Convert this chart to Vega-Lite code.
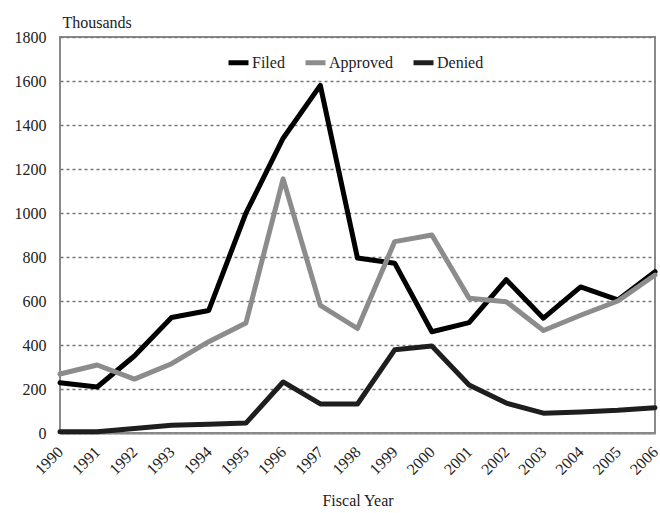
{
  "$schema": "https://vega.github.io/schema/vega-lite/v6.json",
  "width": 595,
  "height": 396,
  "autosize": {"type": "none"},
  "padding": {"left": 60, "top": 37, "right": 5, "bottom": 80},
  "background": "white",
  "config": {
    "font": "Liberation Serif",
    "axis": {"labelFont": "Liberation Serif", "titleFont": "Liberation Serif"},
    "legend": {"labelFont": "Liberation Serif"},
    "view": {"stroke": "#8a8a8a", "strokeWidth": 2}
  },
  "data": {
    "values": [
      {"year": "1990", "series": "Filed", "value": 228},
      {"year": "1991", "series": "Filed", "value": 209},
      {"year": "1992", "series": "Filed", "value": 350},
      {"year": "1993", "series": "Filed", "value": 525},
      {"year": "1994", "series": "Filed", "value": 557},
      {"year": "1995", "series": "Filed", "value": 1000},
      {"year": "1996", "series": "Filed", "value": 1340},
      {"year": "1997", "series": "Filed", "value": 1580},
      {"year": "1998", "series": "Filed", "value": 795},
      {"year": "1999", "series": "Filed", "value": 772},
      {"year": "2000", "series": "Filed", "value": 460},
      {"year": "2001", "series": "Filed", "value": 502},
      {"year": "2002", "series": "Filed", "value": 697},
      {"year": "2003", "series": "Filed", "value": 522},
      {"year": "2004", "series": "Filed", "value": 664},
      {"year": "2005", "series": "Filed", "value": 605},
      {"year": "2006", "series": "Filed", "value": 733},
      {"year": "1990", "series": "Approved", "value": 268},
      {"year": "1991", "series": "Approved", "value": 309},
      {"year": "1992", "series": "Approved", "value": 245},
      {"year": "1993", "series": "Approved", "value": 315},
      {"year": "1994", "series": "Approved", "value": 415},
      {"year": "1995", "series": "Approved", "value": 500},
      {"year": "1996", "series": "Approved", "value": 1155},
      {"year": "1997", "series": "Approved", "value": 580},
      {"year": "1998", "series": "Approved", "value": 475},
      {"year": "1999", "series": "Approved", "value": 870},
      {"year": "2000", "series": "Approved", "value": 900},
      {"year": "2001", "series": "Approved", "value": 613},
      {"year": "2002", "series": "Approved", "value": 597},
      {"year": "2003", "series": "Approved", "value": 466},
      {"year": "2004", "series": "Approved", "value": 535},
      {"year": "2005", "series": "Approved", "value": 600},
      {"year": "2006", "series": "Approved", "value": 718},
      {"year": "1990", "series": "Denied", "value": 6},
      {"year": "1991", "series": "Denied", "value": 6},
      {"year": "1992", "series": "Denied", "value": 20},
      {"year": "1993", "series": "Denied", "value": 35},
      {"year": "1994", "series": "Denied", "value": 40},
      {"year": "1995", "series": "Denied", "value": 45},
      {"year": "1996", "series": "Denied", "value": 232},
      {"year": "1997", "series": "Denied", "value": 132},
      {"year": "1998", "series": "Denied", "value": 132},
      {"year": "1999", "series": "Denied", "value": 378},
      {"year": "2000", "series": "Denied", "value": 395},
      {"year": "2001", "series": "Denied", "value": 218},
      {"year": "2002", "series": "Denied", "value": 136},
      {"year": "2003", "series": "Denied", "value": 90},
      {"year": "2004", "series": "Denied", "value": 95},
      {"year": "2005", "series": "Denied", "value": 103},
      {"year": "2006", "series": "Denied", "value": 115}
    ]
  },
  "mark": {"type": "line", "strokeWidth": 5, "strokeJoin": "round", "strokeCap": "round"},
  "encoding": {
    "x": {
      "field": "year",
      "type": "ordinal",
      "scale": {"type": "point", "padding": 0},
      "axis": {
        "title": "Fiscal Year",
        "titleFontSize": 16,
        "titleFontWeight": "normal",
        "titleColor": "#222",
        "titleY": 72,
        "titleBaseline": "alphabetic",
        "labelAngle": -45,
        "labelAlign": "right",
        "labelBaseline": "middle",
        "labelFontSize": 16,
        "labelColor": "#222",
        "labelPadding": 16,
        "ticks": false,
        "domain": true,
        "domainColor": "#8a8a8a",
        "domainWidth": 2
      }
    },
    "y": {
      "field": "value",
      "type": "quantitative",
      "scale": {"domain": [0, 1800]},
      "axis": {
        "title": "Thousands",
        "titleAngle": 0,
        "titleAlign": "left",
        "titleBaseline": "alphabetic",
        "titleX": 2,
        "titleY": -10,
        "titleFontSize": 16,
        "titleFontWeight": "normal",
        "titleColor": "#222",
        "values": [0, 200, 400, 600, 800, 1000, 1200, 1400, 1600, 1800],
        "format": "d",
        "labelFontSize": 16,
        "labelColor": "#222",
        "labelPadding": 14,
        "ticks": false,
        "domain": false,
        "grid": true,
        "gridDash": [3, 3],
        "gridColor": "#777",
        "gridWidth": 1.5
      }
    },
    "color": {
      "field": "series",
      "type": "nominal",
      "sort": ["Filed", "Approved", "Denied"],
      "scale": {"domain": ["Filed", "Approved", "Denied"], "range": ["#000000", "#8c8c8c", "#1e1e1e"]},
      "legend": {
        "title": null,
        "orient": "none",
        "direction": "horizontal",
        "legendX": 166,
        "legendY": 13,
        "symbolType": "stroke",
        "symbolStrokeWidth": 5,
        "symbolSize": 400,
        "labelFontSize": 16,
        "labelColor": "#222",
        "labelOffset": 1,
        "columnPadding": 10
      }
    }
  }
}
